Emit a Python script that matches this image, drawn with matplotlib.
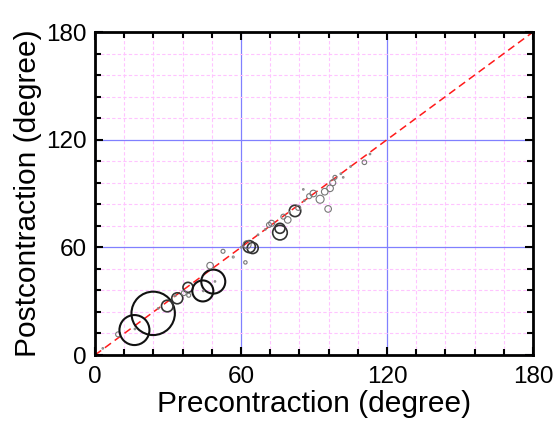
import matplotlib
matplotlib.use("Agg")
import matplotlib.pyplot as plt
from matplotlib.ticker import MultipleLocator
import numpy as np

plt.rcParams['font.family'] = ['Liberation Sans', 'DejaVu Sans']

# Data: precontraction angle, postcontraction angle, bubble weight (radius-like)
pre = [3.2, 9.5, 16.2, 23.9, 29.7, 33.8, 38.2, 38.5, 36.5, 44.3, 48.6, 47.3,
       52.6, 56.8, 61.8, 63.4, 64.8, 62.5, 76.0, 76.0, 72.6, 71.5, 77.4, 79.2,
       82.2, 83.5, 85.6, 89.7, 88.0, 92.5, 95.8, 94.4, 96.6, 97.7, 98.6, 102.0,
       110.7, 16.4, 44.5, 49.3, 60.0, 67.0, 86.0, 101.0, 105.0, 113.0, 70.0,
       80.0, 33.0, 26.0]
post = [3.7, 11.5, 13.9, 23.2, 27.3, 31.6, 37.7, 33.3, 34.5, 35.7, 40.9, 49.8,
        57.8, 54.6, 51.6, 60.4, 59.6, 61.5, 68.2, 70.6, 73.4, 72.5, 77.1, 75.3,
        80.3, 82.0, 92.3, 90.0, 88.5, 86.8, 81.4, 91.0, 92.9, 96.0, 99.0, 99.0,
        107.4, 14.5, 35.7, 41.0, 60.0, 67.0, 86.0, 101.0, 105.0, 112.0, 70.0,
        79.5, 33.0, 26.0]
weight = [0.8, 2.5, 15.0, 21.7, 5.8, 5.5, 5.0, 2.0, 2.5, 10.5, 12.0, 3.3,
          2.0, 1.0, 1.7, 6.0, 5.5, 4.0, 7.3, 5.0, 3.0, 2.5, 2.5, 3.3,
          5.7, 2.5, 0.8, 3.3, 2.5, 4.0, 3.3, 3.3, 3.3, 3.0, 2.0, 0.8,
          2.3, 0.8, 0.8, 0.8, 0.8, 0.8, 0.8, 0.8, 0.8, 0.8, 0.8,
          0.8, 0.8, 0.8]

major_ticks = [0, 60, 120, 180]
tick_labels = ["0", "60", "120", "180"]

fig = plt.figure(figsize=(5.55, 4.25), dpi=100)
ax = fig.add_axes([0.1712, 0.1647, 0.9604 - 0.1712, 0.9247 - 0.1647])

ax.set_xlim(0, 180)
ax.set_ylim(0, 180)

# grids
ax.xaxis.set_major_locator(MultipleLocator(60))
ax.yaxis.set_major_locator(MultipleLocator(60))
ax.xaxis.set_minor_locator(MultipleLocator(12))
ax.yaxis.set_minor_locator(MultipleLocator(12))
ax.grid(which='minor', color='#ffc4ff', linestyle=(0, (3, 2)), linewidth=0.8, zorder=0)
ax.grid(which='major', color='#8080ff', linestyle='-', linewidth=0.9, zorder=0.5)
ax.set_axisbelow(True)

# identity line
ax.plot([0, 180], [0, 180], color='#ff1a1a', linestyle=(0, (5, 3)), linewidth=1.1, zorder=1)

w = np.array(weight)
s = (1.44 * w) ** 2
edge = []
lws = []
for r in w:
    if r >= 10:
        edge.append('#111111'); lws.append(1.5)
    elif r >= 5:
        edge.append('#333333'); lws.append(1.2)
    elif r >= 1.5:
        edge.append('#777777'); lws.append(0.8)
    else:
        edge.append('#888888'); lws.append(0.8)
ax.scatter(pre, post, s=s, facecolors='none', edgecolors=edge, linewidths=lws, zorder=2)

ax.set_xticks(major_ticks)
ax.set_xticklabels(tick_labels)
ax.set_yticks(major_ticks)
ax.set_yticklabels(tick_labels)

ax.tick_params(which='both', direction='in', top=True, right=True, width=1.5)
ax.tick_params(which='major', length=6, labelsize=17.5)
ax.tick_params(axis='x', which='major', pad=8)
ax.tick_params(axis='y', which='major', pad=6)
ax.tick_params(which='minor', length=4)

for sp in ax.spines.values():
    sp.set_linewidth(2)
    sp.set_color('black')

ax.set_xlabel("Precontraction (degree)", fontsize=21.5, labelpad=1)
ax.set_ylabel("Postcontraction (degree)", fontsize=21.5, labelpad=3)

fig.savefig("out.png", dpi=100, facecolor='white')
